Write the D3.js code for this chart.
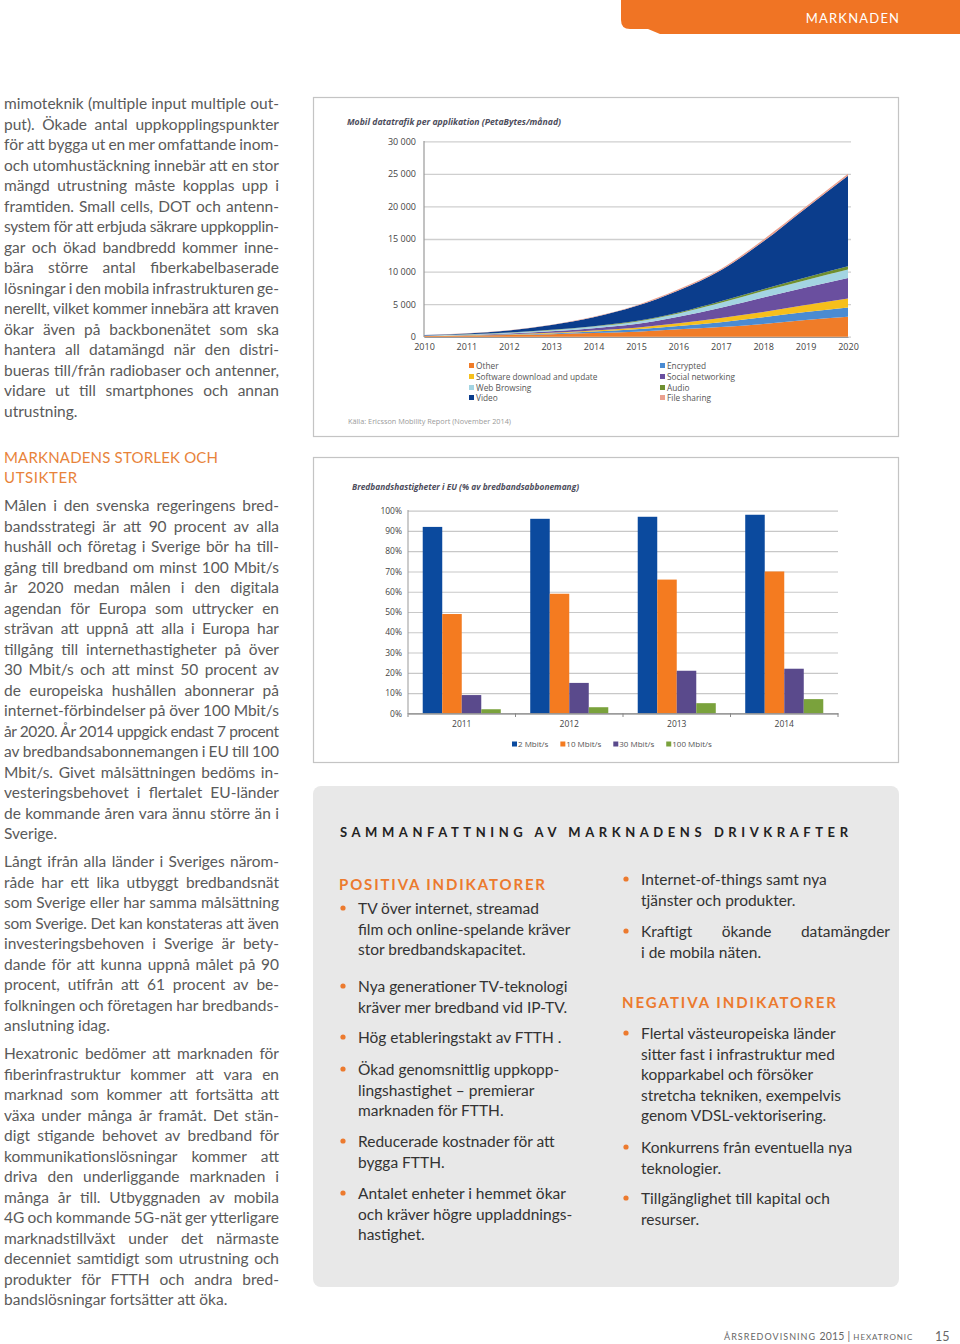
<!DOCTYPE html>
<html><head><meta charset="utf-8">
<script src="https://cdn.jsdelivr.net/npm/d3@7"></script>
<style>html,body{margin:0;padding:0;background:#fff;}svg{display:block}</style>
</head><body>
<script>
// ---------- DATA: mobile traffic per application (PB/month) ----------
const trafficYears = [2010,2011,2012,2013,2014,2015,2016,2017,2018,2019,2020];
const trafficOther       = [90,150,250,380,550,770,1130,1480,1950,2560,3060];
const trafficEncrypted   = [15,35,70,120,230,360,510,720,1020,1220,1440];
const trafficSoftware    = [20,40,70,120,170,250,410,660,810,1070,1380];
const trafficSocial      = [25,55,110,200,350,560,1010,1580,2250,2710,3150];
const trafficWeb         = [35,70,120,180,250,360,520,760,970,1120,1290];
const trafficAudio       = [7,15,30,50,70,100,150,260,300,410,500];
const trafficVideo       = [58,135,320,740,1360,2300,3370,4740,7300,10600,13880];
const trafficFileSharing = [10,20,30,50,90,100,170,200,300,250,300];
const trafficSeriesNames = ["Other","Encrypted","Software download and update","Social networking","Web Browsing","Audio","Video","File sharing"];
const trafficColors = ["#f07c28","#4a8bd2","#f6bf1c","#6a4f9f","#a3d4e2","#6f8f2f","#0b3d8c","#eaa08f"];
const trafficTicks = [0,5000,10000,15000,20000,25000,30000];

// ---------- DATA: broadband speeds in EU (% of subscriptions) ----------
const bbYears = ["2011","2012","2013","2014"];
const bb2   = [92,96,97,98];
const bb10  = [49,59,66,70];
const bb30  = [9,15,21,22];
const bb100 = [2,3,5,7];
const bbSeriesNames = ["2 Mbit/s","10 Mbit/s","30 Mbit/s","100 Mbit/s"];
const bbColors = ["#0b4a9e","#f47b20","#5a4a8c","#7aa23c"];
const bbTicks = [0,10,20,30,40,50,60,70,80,90,100];

// ---------- TEXT ----------
const para1 = ["mimoteknik (multiple input multiple out-","put). Ökade antal uppkopplingspunkter","för att bygga ut en mer omfattande inom-","och utomhustäckning innebär att en stor","mängd utrustning måste kopplas upp i","framtiden. Small cells, DOT och antenn-","system för att erbjuda säkrare uppkopplin-","gar och ökad bandbredd kommer inne-","bära större antal fiberkabelbaserade","lösningar i den mobila infrastrukturen ge-","nerellt, vilket kommer innebära att kraven","ökar även på backbonenätet som ska","hantera all datamängd när den distri-","bueras till/från radiobaser och antenner,","vidare ut till smartphones och annan","utrustning."];
const heading1 = ["MARKNADENS STORLEK OCH","UTSIKTER"];
const para2 = ["Målen i den svenska regeringens bred-","bandsstrategi är att 90 procent av alla","hushåll och företag i Sverige bör ha till-","gång till bredband om minst 100 Mbit/s","år 2020 medan målen i den digitala","agendan för Europa som uttrycker en","strävan att uppnå att alla i Europa har","tillgång till internethastigheter på över","30 Mbit/s och att minst 50 procent av","de europeiska hushållen abonnerar på","internet-förbindelser på över 100 Mbit/s","år 2020. År 2014 uppgick endast 7 procent","av bredbandsabonnemangen i EU till 100","Mbit/s. Givet målsättningen bedöms in-","vesteringsbehovet i flertalet EU-länder","de kommande åren vara ännu större än i","Sverige."];
const para3 = ["Långt ifrån alla länder i Sveriges närom-","råde har ett lika utbyggt bredbandsnät","som Sverige eller har samma målsättning","som Sverige. Det kan konstateras att även","investeringsbehoven i Sverige är bety-","dande för att kunna uppnå målet på 90","procent, utifrån att 61 procent av be-","folkningen och företagen har bredbands-","anslutning idag."];
const para4 = ["Hexatronic bedömer att marknaden för","fiberinfrastruktur kommer att vara en","marknad som kommer att fortsätta att","växa under många år framåt. Det stän-","digt stigande behovet av bredband för","kommunikationslösningar kommer att","driva den underliggande marknaden i","många år till. Utbyggnaden av mobila","4G och kommande 5G-nät ger ytterligare","marknadstillväxt under det närmaste","decenniet samtidigt som utrustning och","produkter för FTTH och andra bred-","bandslösningar fortsätter att öka."];
const positiveItems = [["TV över internet, streamad","film och online-spelande kräver","stor bredbandskapacitet."],["Nya generationer TV-teknologi","kräver mer bredband vid IP-TV."],["Hög etableringstakt av FTTH ."],["Ökad genomsnittlig uppkopp-","lingshastighet – premierar","marknaden för FTTH."],["Reducerade kostnader för att","bygga FTTH."],["Antalet enheter i hemmet ökar","och kräver högre uppladdnings-","hastighet."]];
const positiveItems2 = [["Internet-of-things samt nya","tjänster och produkter."],["Kraftigt ökande datamängder","i de mobila näten."]];
const negativeItems = [["Flertal västeuropeiska länder","sitter fast i infrastruktur med","kopparkabel och försöker","stretcha tekniken, exempelvis","genom VDSL-vektorisering."],["Konkurrens från eventuella nya","teknologier."],["Tillgänglighet till kapital och","resurser."]];

// ---------- PAGE ----------
const W = 960, H = 1344;
const svg = d3.select("body").append("svg").attr("width", W).attr("height", H);
const BODY = "Lato, 'Open Sans', sans-serif";
const CHART = "'Open Sans', 'Noto Sans', sans-serif";

function st(size, fill, family, weight, style) {
  return sel => sel.attr("font-family", family || BODY).attr("font-size", size)
    .attr("fill", fill).attr("font-weight", weight || 400).attr("font-style", style || "normal");
}
function line(g, text, x, y, w, justify, style) {
  if (!justify) { g.append("text").attr("x", x).attr("y", y).text(text).call(style); return; }
  const words = text.split(" ");
  const ts = words.map(wd => g.append("text").attr("y", y).text(wd).call(style));
  const ws = ts.map(t => t.node().getComputedTextLength());
  const gap = words.length > 1 ? (w - d3.sum(ws)) / (words.length - 1) : 0;
  if (words.length < 2 || gap < 3) {
    ts.forEach(t => t.remove());
    g.append("text").attr("x", x).attr("y", y).attr("textLength", w)
      .attr("lengthAdjust", "spacing").text(text).call(style);
    return;
  }
  let cx = x;
  ts.forEach((t, i) => { t.attr("x", cx); cx += ws[i] + gap; });
}
function paragraph(g, lines, x, y0, w, step, style) {
  lines.forEach((l, i) => line(g, l, x, y0 + i * step, w, i < lines.length - 1, style));
}

// Header tab
svg.append("path").attr("d", "M621,0 H960 V34 H660 L648,29 H630 Q621,29 621,20 Z").attr("fill", "#f07424");
svg.append("text").attr("x", 853).attr("y", 23).attr("text-anchor", "middle").text("MARKNADEN")
  .attr("letter-spacing", 1.2).call(st(13, "#fff"));

// Left column
const left = svg.append("g");
const bodyStyle = st(15.5, "#5a5a5a");
paragraph(left, para1, 4, 109, 275, 20.5, bodyStyle);
const hStyle = st(15, "#e8833a");
left.append("text").attr("x", 4).attr("y", 463).attr("textLength", 214).attr("lengthAdjust", "spacing").text(heading1[0]).call(hStyle);
left.append("text").attr("x", 4).attr("y", 483).text(heading1[1]).attr("letter-spacing", 0.6).call(hStyle);
paragraph(left, para2, 4, 511, 275, 20.5, bodyStyle);
paragraph(left, para3, 4, 867, 275, 20.5, bodyStyle);
paragraph(left, para4, 4, 1059, 275, 20.5, bodyStyle);

// ---------- Chart 1: stacked area ----------
const c1 = svg.append("g");
c1.append("rect").attr("x", 313.5).attr("y", 97.5).attr("width", 585).attr("height", 339)
  .attr("fill", "#fff").attr("stroke", "#c4c4c4").attr("stroke-width", 1.2);
c1.append("text").attr("x", 347).attr("y", 125).attr("textLength", 214).attr("lengthAdjust", "spacingAndGlyphs")
  .text("Mobil datatrafik per applikation (PetaBytes/månad)").call(st(9, "#4d4d5c", CHART, 700, "italic"));

const x1 = d3.scaleLinear().domain([2010, 2020]).range([424, 848]);
const y1 = d3.scaleLinear().domain([0, 30000]).range([336.7, 141.3]);
const fmt1 = v => d3.format(",")(v).replace(/,/g, " ");
const gy1 = c1.append("g").attr("transform", "translate(424,0)")
  .call(d3.axisLeft(y1).tickValues(trafficTicks).tickSize(-(851 - 424)).tickPadding(8).tickFormat(fmt1));
gy1.select(".domain").remove();
gy1.selectAll(".tick line").attr("stroke", "#cfcfcf").attr("stroke-width", 1.3);
gy1.selectAll(".tick text").attr("font-family", CHART).attr("font-size", 9).attr("fill", "#444");

const table1 = trafficYears.map((yr, i) => ({
  year: yr, "Other": trafficOther[i], "Encrypted": trafficEncrypted[i],
  "Software download and update": trafficSoftware[i], "Social networking": trafficSocial[i],
  "Web Browsing": trafficWeb[i], "Audio": trafficAudio[i], "Video": trafficVideo[i], "File sharing": trafficFileSharing[i]
}));
const stacked = d3.stack().keys(trafficSeriesNames)(table1);
const color1 = d3.scaleOrdinal().domain(trafficSeriesNames).range(trafficColors);
const area1 = d3.area().x(d => x1(d.data.year)).y0(d => y1(d[0])).y1(d => y1(d[1])).curve(d3.curveMonotoneX);
c1.append("g").selectAll("path").data(stacked).join("path")
  .attr("d", area1).attr("fill", d => color1(d.key));

c1.append("line").attr("x1", 424).attr("x2", 424).attr("y1", 141).attr("y2", 337).attr("stroke", "#999").attr("stroke-width", 1.2);
const gx1 = c1.append("g").attr("transform", "translate(0,337)")
  .call(d3.axisBottom(x1).tickValues(trafficYears).tickFormat(d3.format("d")).tickSize(0).tickPadding(7));
gx1.select(".domain").attr("stroke", "#999").attr("stroke-width", 1.2);
gx1.selectAll(".tick text").attr("font-family", CHART).attr("font-size", 9).attr("fill", "#444");

// legend 1
const leg1Pos = [[469, 366], [660, 366], [469, 377], [660, 377], [469, 388], [660, 388], [469, 398], [660, 398]];
const leg1 = c1.append("g").selectAll("g").data(trafficSeriesNames).join("g")
  .attr("transform", (d, i) => `translate(${leg1Pos[i][0]},${leg1Pos[i][1]})`);
leg1.append("rect").attr("x", 0).attr("y", -3).attr("width", 5).attr("height", 5).attr("fill", d => color1(d));
leg1.append("text").attr("x", 7).attr("y", 3).text(d => d).call(st(8.3, "#555", CHART));
c1.append("text").attr("x", 348).attr("y", 424).text("Källa: Ericsson Mobility Report (November 2014)")
  .attr("textLength", 163).attr("lengthAdjust", "spacingAndGlyphs").call(st(7, "#9a9a9a", CHART));

// ---------- Chart 2: grouped bars ----------
const c2 = svg.append("g");
c2.append("rect").attr("x", 313.5).attr("y", 457.5).attr("width", 585).attr("height", 305)
  .attr("fill", "#fff").attr("stroke", "#c4c4c4").attr("stroke-width", 1.2);
c2.append("text").attr("x", 352).attr("y", 490).attr("textLength", 227).attr("lengthAdjust", "spacingAndGlyphs")
  .text("Bredbandshastigheter i EU (% av bredbandsabbonemang)").call(st(9, "#4d4d5c", CHART, 700, "italic"));

const x2 = d3.scaleBand().domain(bbYears).range([408, 838]).paddingInner(0.274).paddingOuter(0.137);
const xs2 = d3.scaleBand().domain(bbSeriesNames).range([0, x2.bandwidth()]);
const y2 = d3.scaleLinear().domain([0, 100]).range([713.3, 510.7]);
const color2 = d3.scaleOrdinal().domain(bbSeriesNames).range(bbColors);
const gy2 = c2.append("g").attr("transform", "translate(408,0)")
  .call(d3.axisLeft(y2).tickValues(bbTicks).tickSize(-(838 - 408)).tickPadding(6).tickFormat(d => d + "%"));
gy2.select(".domain").remove();
gy2.selectAll(".tick line").attr("stroke", "#c8c8c8").attr("stroke-width", 1.2);
gy2.selectAll(".tick text").attr("font-family", CHART).attr("font-size", 8.5).attr("fill", "#444");
c2.append("line").attr("x1", 408).attr("x2", 408).attr("y1", 510).attr("y2", 714).attr("stroke", "#999");

const table2 = bbYears.map((yr, i) => ({ year: yr, values: [bb2[i], bb10[i], bb30[i], bb100[i]] }));
const grp = c2.append("g").selectAll("g").data(table2).join("g")
  .attr("transform", d => `translate(${x2(d.year)},0)`);
grp.selectAll("rect").data(d => d.values.map((v, j) => ({ key: bbSeriesNames[j], v }))).join("rect")
  .attr("x", d => xs2(d.key)).attr("width", xs2.bandwidth())
  .attr("y", d => y2(d.v)).attr("height", d => y2(0) - y2(d.v)).attr("fill", d => color2(d.key));

const gx2 = c2.append("g").attr("transform", "translate(0,713.3)")
  .call(d3.axisBottom(x2).tickSize(0).tickPadding(8));
gx2.select(".domain").attr("stroke", "#888").attr("stroke-width", 1.2);
gx2.selectAll(".tick text").attr("font-family", CHART).attr("font-size", 8.5).attr("fill", "#444");
const bounds = bbYears.map(d => x2(d) - x2.step() * x2.paddingInner() / 2).concat([838]);
c2.append("g").selectAll("line").data(bounds).join("line")
  .attr("x1", d => d).attr("x2", d => d).attr("y1", 713.3).attr("y2", 717).attr("stroke", "#888");

// legend 2
const leg2 = c2.append("g");
let lx = 512;
bbSeriesNames.forEach(n => {
  leg2.append("rect").attr("x", lx).attr("y", 741.5).attr("width", 5).attr("height", 5).attr("fill", color2(n));
  const t = leg2.append("text").attr("x", lx + 6).attr("y", 747).text(n).call(st(8, "#555", CHART));
  lx += 6 + t.node().getComputedTextLength() + 12;
});

// ---------- Summary box ----------
const box = svg.append("g");
box.append("rect").attr("x", 313).attr("y", 786).attr("width", 586).attr("height", 501).attr("rx", 8).attr("fill", "#e8e8e8");
box.append("text").attr("x", 340).attr("y", 837).attr("textLength", 508).attr("lengthAdjust", "spacing")
  .text("SAMMANFATTNING AV MARKNADENS DRIVKRAFTER").call(st(13, "#222", BODY, 700));
const oStyle = st(15, "#ec7a2e", BODY, 700);
box.append("text").attr("x", 339).attr("y", 890).attr("textLength", 206).attr("lengthAdjust", "spacing")
  .text("POSITIVA INDIKATORER").call(oStyle);
box.append("text").attr("x", 622).attr("y", 1008).attr("textLength", 214).attr("lengthAdjust", "spacing")
  .text("NEGATIVA INDIKATORER").call(oStyle);

const boxStyle = st(15.5, "#333");
function bullets(items, starts, bx, tx) {
  items.forEach((lines, i) => {
    box.append("circle").attr("cx", bx).attr("cy", starts[i] - 1).attr("r", 2.6).attr("fill", "#ec7a2e");
    lines.forEach((l, j) => box.append("text").attr("x", tx).attr("y", starts[i] + 5 + j * 20.6).text(l).call(boxStyle));
  });
}
bullets(positiveItems, [909, 987, 1038, 1070, 1142, 1194], 343, 358);
// right column
box.append("circle").attr("cx", 626).attr("cy", 879).attr("r", 2.6).attr("fill", "#ec7a2e");
box.append("text").attr("x", 641).attr("y", 885).text(positiveItems2[0][0]).call(boxStyle);
box.append("text").attr("x", 641).attr("y", 905.6).text(positiveItems2[0][1]).call(boxStyle);
box.append("circle").attr("cx", 626).attr("cy", 931).attr("r", 2.6).attr("fill", "#ec7a2e");
line(box, positiveItems2[1][0], 641, 937, 249, true, boxStyle);
box.append("text").attr("x", 641).attr("y", 957.6).text(positiveItems2[1][1]).call(boxStyle);
bullets(negativeItems, [1034, 1148, 1199], 626, 641);

// ---------- Footer ----------
const foot = svg.append("text").attr("x", 724).attr("y", 1340).attr("fill", "#666").attr("font-family", BODY)
  .attr("textLength", 189).attr("lengthAdjust", "spacing");
foot.append("tspan").attr("font-size", 9).attr("letter-spacing", 0.8).text("ÅRSREDOVISNING ");
foot.append("tspan").attr("font-size", 10.5).text("2015 | ");
foot.append("tspan").attr("font-size", 8).attr("letter-spacing", 0.7).text("HEXATRONIC");
svg.append("text").attr("x", 935).attr("y", 1341).text("15").call(st(12.5, "#666"));
</script>
</body></html>
